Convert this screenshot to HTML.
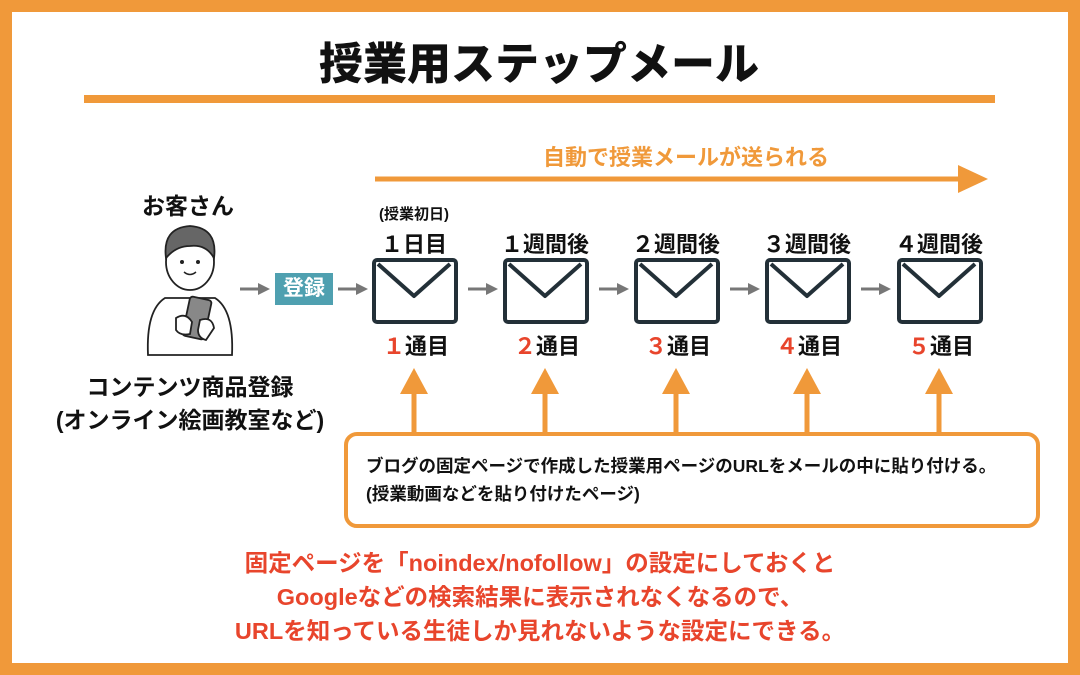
<!DOCTYPE html>
<html><head><meta charset="utf-8"><style>
body{margin:0;}
#c{position:relative;width:1080px;height:675px;background:#fff;overflow:hidden;font-family:"Liberation Sans","Noto Sans CJK JP",sans-serif;font-weight:bold;color:#111;}
.frame{position:absolute;left:0;top:0;width:1056px;height:651px;border:12px solid #F0993A;}
.t{position:absolute;white-space:nowrap;text-align:center;transform:translateX(-50%);}
.env{position:absolute;top:258px;width:78px;height:58px;border:4px solid #233038;border-radius:5px;}
.red{color:#E8452C;}
</style></head><body><div id="c">
<div class="frame"></div>
<div class="t" style="left:539px;top:28px;font-size:44px;font-weight:900;">授業用ステップメール</div>
<div style="position:absolute;left:84px;top:95px;width:911px;height:8px;background:#F0993A;"></div>
<div class="t" style="left:686px;top:140px;font-size:22px;color:#F0993A;">自動で授業メールが送られる</div>
<svg style="position:absolute;left:0;top:0" width="1080" height="675">
<line x1="375" y1="179" x2="962" y2="179" stroke="#F0993A" stroke-width="5"/>
<polygon points="958,165 988,179 958,193" fill="#F0993A"/>
<g fill="#F0993A" stroke="#F0993A">
<g id="ua"><line x1="414" y1="432" x2="414" y2="392" stroke-width="5"/><polygon points="400,394 414,368 428,394" stroke="none"/></g>
<use href="#ua" x="131"/><use href="#ua" x="262"/><use href="#ua" x="393"/><use href="#ua" x="525"/>
</g>
<g stroke="#777" stroke-width="3" fill="#777">
<g id="ga"><line x1="240" y1="289" x2="262" y2="289"/><polygon points="258,283 270,289 258,295" stroke="none"/></g>
<use href="#ga" x="98"/><use href="#ga" x="228"/><use href="#ga" x="359"/><use href="#ga" x="490"/><use href="#ga" x="621"/>
</g>
<g stroke="#233038" stroke-width="4" fill="none" stroke-linejoin="round">
<polyline points="378,264 414,296 450,264"/>
<polyline points="509,264 545,296 581,264"/>
<polyline points="640,264 676,296 712,264"/>
<polyline points="771,264 807,296 843,264"/>
<polyline points="903,264 939,296 975,264"/>
</g>
<g stroke="#222" stroke-width="1.8" fill="#fff">
<path d="M148,355 Q146,310 165,298 L215,298 Q234,310 232,355 Z"/>
<ellipse cx="190" cy="262" rx="24" ry="28"/>
<path d="M166,258 Q162,228 190,226 Q218,228 214,258 Q206,244 190,246 Q176,246 166,258Z" fill="#666"/>
<rect x="186" y="298" width="22" height="40" rx="3" fill="#888" transform="rotate(12 197 318)"/>
<path d="M176,318 Q186,312 192,322 L190,334 Q180,336 176,330Z"/>
<path d="M200,320 Q212,316 214,328 L206,340 Q198,338 198,330Z"/>
</g>
<circle cx="182" cy="262" r="2" fill="#222"/><circle cx="198" cy="262" r="2" fill="#222"/>
<path d="M184,272 Q190,277 196,272" stroke="#222" stroke-width="1.5" fill="none"/>
</svg>
<div class="t" style="left:188px;top:187px;font-size:23px;">お客さん</div>
<div style="position:absolute;left:275px;top:273px;width:58px;height:32px;background:#4FA0B0;color:#fff;font-size:21px;text-align:center;line-height:32px;">登録</div>
<div class="t" style="left:190px;top:368px;font-size:23px;">コンテンツ商品登録</div>
<div class="t" style="left:190px;top:401px;font-size:23px;">(オンライン絵画教室など)</div>
<div class="t" style="left:414px;top:203px;font-size:15px;">(授業初日)</div>
<div class="t" style="left:414px;top:227px;font-size:22px;">１日目</div>
<div class="t" style="left:545px;top:227px;font-size:22px;">１週間後</div>
<div class="t" style="left:676px;top:227px;font-size:22px;">２週間後</div>
<div class="t" style="left:807px;top:227px;font-size:22px;">３週間後</div>
<div class="t" style="left:939px;top:227px;font-size:22px;">４週間後</div>
<div class="env" style="left:372px"></div><div class="env" style="left:503px"></div><div class="env" style="left:634px"></div><div class="env" style="left:765px"></div><div class="env" style="left:897px"></div>
<div class="t" style="left:416px;top:329px;font-size:22px;"><span class="red">１</span>通目</div>
<div class="t" style="left:547px;top:329px;font-size:22px;"><span class="red">２</span>通目</div>
<div class="t" style="left:678px;top:329px;font-size:22px;"><span class="red">３</span>通目</div>
<div class="t" style="left:809px;top:329px;font-size:22px;"><span class="red">４</span>通目</div>
<div class="t" style="left:941px;top:329px;font-size:22px;"><span class="red">５</span>通目</div>
<div style="position:absolute;left:344px;top:432px;width:688px;height:88px;border:4px solid #F0993A;border-radius:13px;background:#fff;"></div>
<div style="position:absolute;left:366px;top:452px;font-size:17.5px;line-height:28px;white-space:nowrap;">ブログの固定ページで作成した授業用ページのURLをメールの中に貼り付ける。<br>(授業動画などを貼り付けたページ)</div>
<div class="t red" style="left:540px;top:546px;font-size:23.5px;line-height:34px;">固定ページを「noindex/nofollow」の設定にしておくと<br>Googleなどの検索結果に表示されなくなるので、<br>URLを知っている生徒しか見れないような設定にできる。</div>
</div></body></html>
